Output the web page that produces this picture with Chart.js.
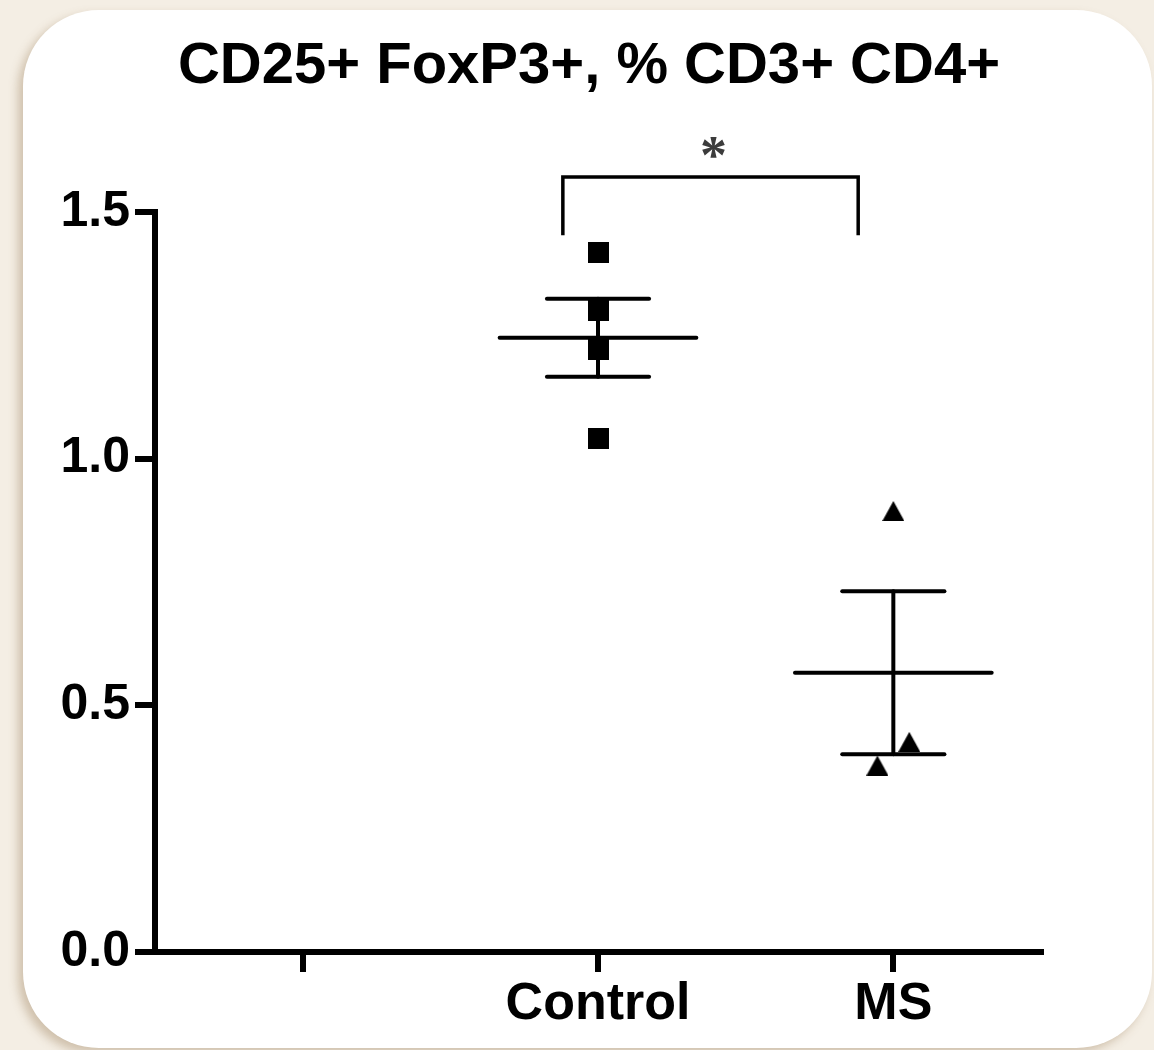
<!DOCTYPE html>
<html>
<head>
<meta charset="utf-8">
<script src="https://cdn.jsdelivr.net/npm/chart.js@4.4.1/dist/chart.umd.min.js"></script>
<style>
  html, body { margin: 0; padding: 0; background: #f4eee4; }
  body { width: 1154px; height: 1050px; position: relative; overflow: hidden; }
  #card {
    position: absolute; left: 23px; top: 10px; width: 1129px; height: 1038px;
    background: #ffffff; border-radius: 76px;
    box-shadow: -5px 5px 10px rgba(140, 110, 70, 0.35);
  }
  #c { position: absolute; left: 0; top: 0; }
</style>
</head>
<body>
<div id="card"></div>
<canvas id="c" width="1154" height="1050"></canvas>
<script>
// Category axis (first slot is an empty, unlabeled position)
const categories = ['', 'Control', 'MS'];
const groups = ['Control', 'MS'];

// Individual measurements, % of CD3+ CD4+ cells
const controlValues = [1.417, 1.301, 1.222, 1.041];
const msValues = [0.894, 0.426, 0.378];
const controlJitter = [0, 0, 0, 0];
const msJitter = [0, 0.054, -0.054];

// Group summaries (mean ± SEM)
const groupMeans = [1.245, 0.566];
const groupSEM = [0.079, 0.165];

// Y axis ticks
const yTicks = [0, 0.5, 1.0, 1.5];

// Significance bracket between Control and MS
const bracketFrom = 'Control';
const bracketTo = 'MS';
const bracketLow = 1.453;
const bracketHigh = 1.571;
const significanceMark = '*';

const chartTitle = 'CD25+ FoxP3+, % CD3+ CD4+';

const FONT = '"Liberation Sans", Arial, Helvetica, sans-serif';

function marker(shape, w, h) {
  const c = document.createElement('canvas');
  c.width = w; c.height = h;
  const g = c.getContext('2d');
  g.fillStyle = '#000';
  if (shape === 'square') {
    g.fillRect(0, 0, w, h);
  } else {
    g.beginPath();
    g.moveTo(w / 2, 0);
    g.lineTo(w, h);
    g.lineTo(0, h);
    g.closePath();
    g.fill();
  }
  return c;
}

const squareMarker = marker('square', 21, 21);
const triangleMarker = marker('triangle', 22, 20);

const pos = name => categories.indexOf(name);

// Title, drawn over the whole card rather than the plot area
const titlePlugin = {
  id: 'cardTitle',
  afterDraw(chart) {
    const { ctx } = chart;
    ctx.save();
    ctx.font = 'bold 58px ' + FONT;
    ctx.fillStyle = '#000';
    ctx.textAlign = 'center';
    ctx.textBaseline = 'middle';
    ctx.fillText(chartTitle, 589, 67);
    ctx.restore();
  }
};

const meanSemPlugin = {
  id: 'meanSem',
  beforeDatasetsDraw(chart) {
    const { ctx, scales: { x, y } } = chart;
    ctx.save();
    ctx.strokeStyle = '#000';
    ctx.lineWidth = 4;
    ctx.lineCap = 'round';
    const seg = (x1, y1, x2, y2) => {
      ctx.beginPath(); ctx.moveTo(x1, y1); ctx.lineTo(x2, y2); ctx.stroke();
    };
    groups.forEach((g, i) => {
      const c = pos(g);
      const m = groupMeans[i], s = groupSEM[i];
      const yM = y.getPixelForValue(m);
      const yU = y.getPixelForValue(m + s);
      const yL = y.getPixelForValue(m - s);
      const xc = x.getPixelForValue(c);
      // mean line
      seg(x.getPixelForValue(c - 0.333), yM, x.getPixelForValue(c + 0.333), yM);
      // SEM whisker and caps
      seg(xc, yU, xc, yL);
      seg(x.getPixelForValue(c - 0.173), yU, x.getPixelForValue(c + 0.173), yU);
      seg(x.getPixelForValue(c - 0.173), yL, x.getPixelForValue(c + 0.173), yL);
    });
    ctx.restore();
  },
  afterDatasetsDraw(chart) {
    const { ctx, scales: { x, y } } = chart;
    const x1 = x.getPixelForValue(pos(bracketFrom) - 0.119);
    const x2 = x.getPixelForValue(pos(bracketTo) - 0.119);
    const yLow = y.getPixelForValue(bracketLow);
    const yHigh = y.getPixelForValue(bracketHigh);
    ctx.save();
    ctx.strokeStyle = '#000';
    ctx.lineWidth = 3.5;
    ctx.lineJoin = 'miter';
    ctx.beginPath();
    ctx.moveTo(x1, yLow);
    ctx.lineTo(x1, yHigh);
    ctx.lineTo(x2, yHigh);
    ctx.lineTo(x2, yLow);
    ctx.stroke();
    // significance asterisk centred above the bracket
    ctx.font = 'bold 54px "Liberation Serif", "Times New Roman", serif';
    ctx.fillStyle = '#3c3c3c';
    ctx.textAlign = 'center';
    ctx.textBaseline = 'alphabetic';
    const mt = ctx.measureText(significanceMark);
    const cy = yHigh - 29;
    ctx.fillText(significanceMark, (x1 + x2) / 2 + 3,
      cy + (mt.actualBoundingBoxAscent - mt.actualBoundingBoxDescent) / 2);
    ctx.restore();
  }
};

new Chart(document.getElementById('c'), {
  type: 'scatter',
  data: {
    datasets: [
      {
        label: 'Control',
        data: controlValues.map((v, i) => ({ x: pos('Control') + controlJitter[i], y: v })),
        pointStyle: squareMarker,
        pointRadius: 10,
        clip: false
      },
      {
        label: 'MS',
        data: msValues.map((v, i) => ({ x: pos('MS') + msJitter[i], y: v })),
        pointStyle: triangleMarker,
        pointRadius: 10,
        clip: false
      }
    ]
  },
  options: {
    responsive: false,
    animation: false,
    events: [],
    layout: { padding: { left: 0, right: 113, top: 212, bottom: 0 } },
    plugins: {
      legend: { display: false },
      tooltip: { enabled: false },
      title: { display: false }
    },
    scales: {
      x: {
        type: 'linear',
        min: -0.5,
        max: 2.5,
        afterBuildTicks: s => { s.ticks = categories.map((_, i) => ({ value: i })); },
        afterFit: s => { s.height = 98; },
        grid: {
          drawOnChartArea: false,
          color: '#000',
          lineWidth: 6,
          tickLength: 20,
          tickWidth: 6,
          tickColor: '#000'
        },
        border: { display: true, color: '#000', width: 6 },
        ticks: {
          callback: v => categories[v] ?? '',
          color: '#000',
          font: { family: FONT, size: 52, weight: 'bold', lineHeight: 1.2 },
          padding: 1,
          maxRotation: 0,
          autoSkip: false
        }
      },
      y: {
        min: 0,
        max: 1.5,
        afterBuildTicks: s => { s.ticks = yTicks.map(v => ({ value: v })); },
        afterFit: s => { s.width = 155; },
        grid: {
          drawOnChartArea: false,
          color: '#000',
          lineWidth: 6,
          tickLength: 20,
          tickWidth: 6,
          tickColor: '#000'
        },
        border: { display: true, color: '#000', width: 6 },
        ticks: {
          callback: v => Number(v).toFixed(1),
          color: '#000',
          font: { family: FONT, size: 50, weight: 'bold', lineHeight: 1.2 },
          padding: 5
        }
      }
    }
  },
  plugins: [meanSemPlugin, titlePlugin]
});
</script>
</body>
</html>
